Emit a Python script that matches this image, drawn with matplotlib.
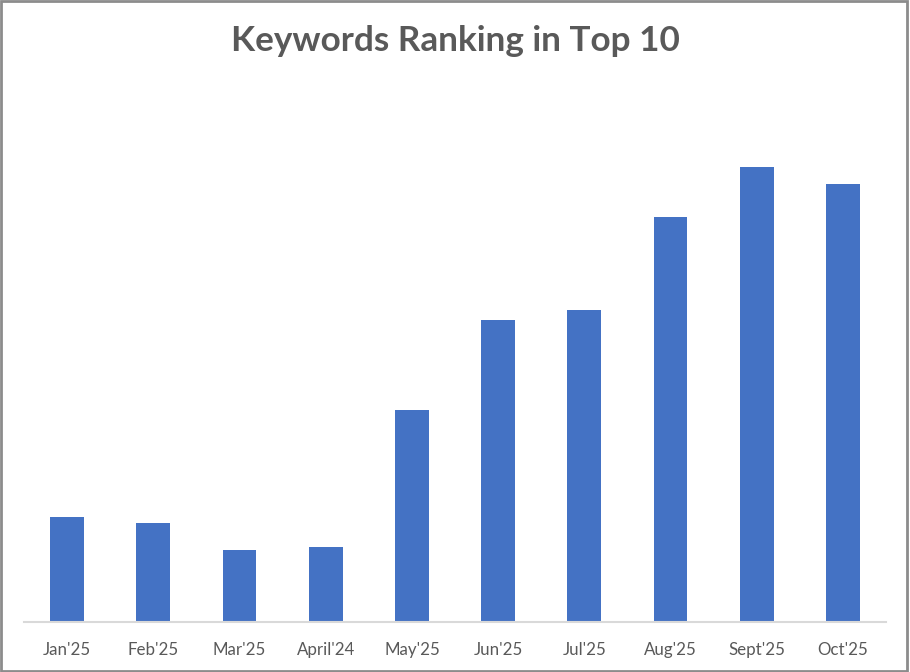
import matplotlib.pyplot as plt
from matplotlib.patches import Rectangle

months = ["Jan'25", "Feb'25", "Mar'25", "April'24", "May'25",
          "Jun'25", "Jul'25", "Aug'25", "Sept'25", "Oct'25"]
keywords = [105, 99, 72, 75, 212, 302, 312, 405, 455, 438]

W, H = 910, 672
fig = plt.figure(figsize=(W / 100, H / 100), dpi=100)

# plot area in pixels
left, right, top, bottom = 24, 886, 80, 621.5
ax = fig.add_axes([left / W, (H - bottom) / H, (right - left) / W, (bottom - top) / H])

x = range(len(months))
ax.bar(x, keywords, width=0.39, color="#4472C4", zorder=2)
ax.set_xlim(-0.5, len(months) - 0.5)
ax.set_ylim(0, bottom - top)

ax.set_xticks(list(x))
ax.set_xticklabels(months, fontfamily="Lato", fontsize=12.2, color="#595959")
ax.tick_params(axis="x", length=0, pad=15)
ax.set_yticks([])
for s in ["top", "left", "right"]:
    ax.spines[s].set_visible(False)
ax.spines["bottom"].set_color("#D9D9D9")
ax.spines["bottom"].set_linewidth(1.5)

fig.text(455 / W, 1 - 41 / H, "Keywords Ranking in Top 10", ha="center", va="center",
         fontfamily="Lato", fontweight="bold", fontsize=25.3, color="#595959")

# outer frame
fig.patches.append(Rectangle((0.001, 0.002), 0.996, 0.996, transform=fig.transFigure,
                             fill=False, edgecolor="#8C8C8C", linewidth=2))

fig.savefig("out.png", dpi=100)
